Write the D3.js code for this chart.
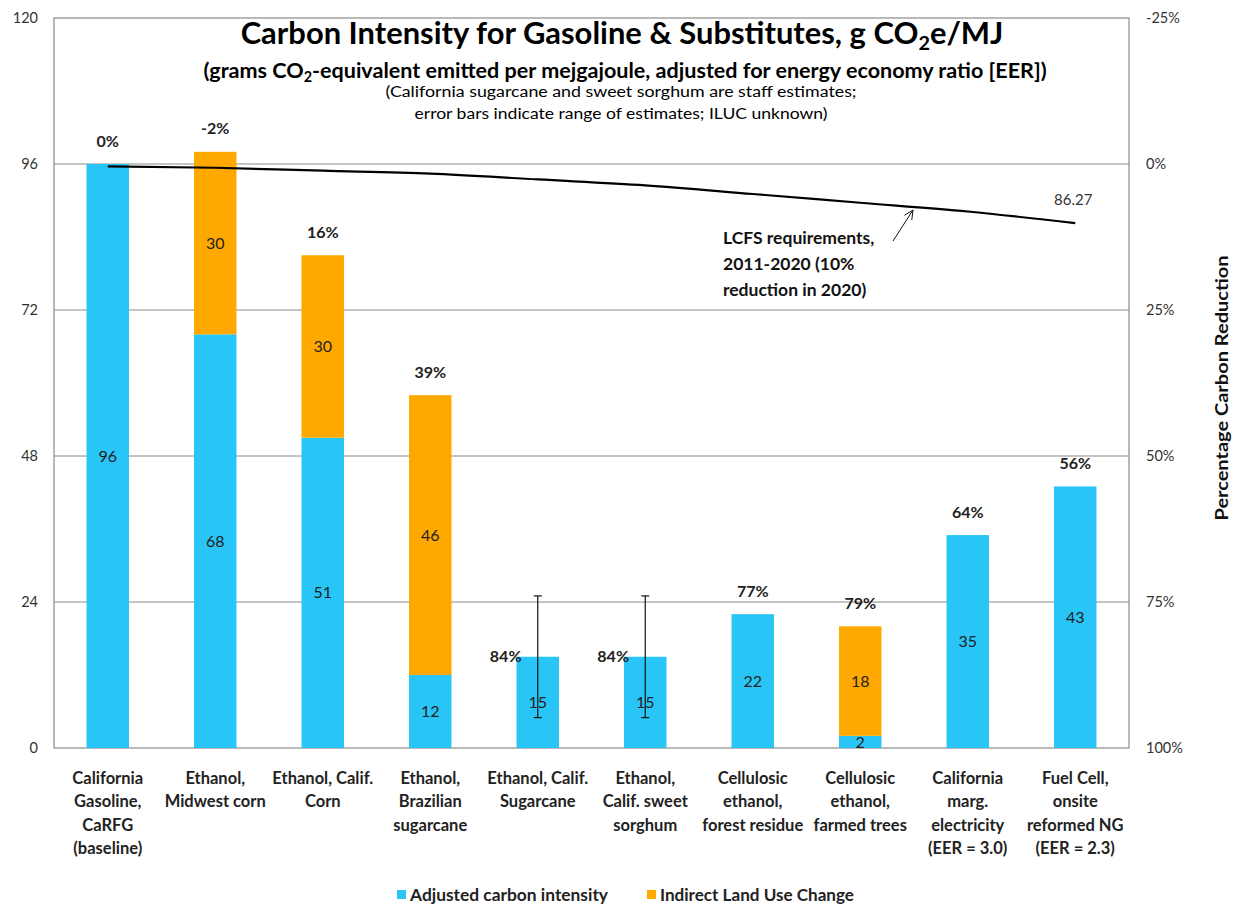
<!DOCTYPE html>
<html>
<head>
<meta charset="utf-8">
<script src="https://cdn.jsdelivr.net/npm/d3@7"></script>
<style>
  html, body { margin: 0; padding: 0; background: #fff; }
  svg { display: block; font-family: Lato, "Open Sans", "DejaVu Sans", sans-serif; }
</style>
</head>
<body>
<svg id="chart" width="1236" height="905"></svg>
<script>
// ---- data ----
const categories = [
  ["California", "Gasoline,", "CaRFG", "(baseline)"],
  ["Ethanol,", "Midwest corn"],
  ["Ethanol, Calif.", "Corn"],
  ["Ethanol,", "Brazilian", "sugarcane"],
  ["Ethanol, Calif.", "Sugarcane"],
  ["Ethanol,", "Calif. sweet", "sorghum"],
  ["Cellulosic", "ethanol,", "forest residue"],
  ["Cellulosic", "ethanol,", "farmed trees"],
  ["California", "marg.", "electricity", "(EER = 3.0)"],
  ["Fuel Cell,", "onsite", "reformed NG", "(EER = 2.3)"]
];
const adjustedCI = [96, 68, 51, 12, 15, 15, 22, 2, 35, 43];
const ilucCI     = [0, 30, 30, 46, 0, 0, 0, 18, 0, 0];
const pctReductionLabels = ["0%", "-2%", "16%", "39%", "84%", "84%", "77%", "79%", "64%", "56%"];
const errorLow   = [null, null, null, null, 5, 5, null, null, null, null];
const errorHigh  = [null, null, null, null, 25, 25, null, null, null, null];
const lcfsRequirement = [95.61, 95.38, 94.90, 94.42, 93.46, 92.50, 91.07, 89.63, 88.19, 86.27];
const leftTicks  = [0, 24, 48, 72, 96, 120];
const rightTicks = [-0.25, 0, 0.25, 0.5, 0.75, 1];
const seriesNames = ["Adjusted carbon intensity", "Indirect Land Use Change"];
const seriesColors = ["#29C5F6", "#FFA800"];

// ---- layout ----
const svg = d3.select("#chart");
const L = 54, R = 1129, T = 18, B = 748;

const x = d3.scaleBand().domain(d3.range(categories.length)).range([L, R]).padding(0);
const barW = x.bandwidth() * 0.395;
const y = d3.scaleLinear().domain([0, 120]).range([B, T]);
const yR = d3.scaleLinear().domain([1, -0.25]).range([B, T]);
const cx = i => x(i) + x.bandwidth() / 2;

// gridlines
svg.append("g").selectAll("line").data(leftTicks.filter(t => t > 0 && t < 120)).join("line")
  .attr("x1", L).attr("x2", R).attr("y1", d => y(d)).attr("y2", d => y(d))
  .attr("stroke", "#8a8a8a").attr("stroke-width", 1);

// border
svg.append("rect").attr("x", L).attr("y", T).attr("width", R - L).attr("height", B - T)
  .attr("fill", "none").attr("stroke", "#8a8a8a").attr("stroke-width", 1.2);

// left axis
const gl = svg.append("g").attr("transform", `translate(${L},0)`)
  .call(d3.axisLeft(y).tickValues(leftTicks).tickSize(0).tickPadding(16).tickFormat(d3.format("d")));
gl.select(".domain").remove();
gl.selectAll("text").attr("font-size", 14.5).attr("fill", "#333").attr("font-family", "Lato, sans-serif");

// right axis
const pctFmt = d => (d < 0 ? "-" : "") + Math.round(Math.abs(d) * 100) + "%";
const gr = svg.append("g").attr("transform", `translate(${R},0)`)
  .call(d3.axisRight(yR).tickValues(rightTicks).tickSize(0).tickPadding(17).tickFormat(pctFmt));
gr.select(".domain").remove();
gr.selectAll("text").attr("font-size", 14.5).attr("fill", "#333").attr("font-family", "Lato, sans-serif");

// right axis title
svg.append("text").attr("transform", "translate(1222,388) rotate(-90)")
  .attr("text-anchor", "middle").attr("dominant-baseline", "central")
  .attr("font-size", 16.5).attr("font-weight", "bold").attr("fill", "#111")
  .attr("textLength", 265).attr("lengthAdjust", "spacingAndGlyphs")
  .text("Percentage Carbon Reduction");

// bars
const bars = svg.append("g");
categories.forEach((c, i) => {
  const a = adjustedCI[i], b = ilucCI[i];
  bars.append("rect").attr("x", cx(i) - barW / 2).attr("width", barW)
    .attr("y", y(a)).attr("height", y(0) - y(a)).attr("fill", seriesColors[0]);
  if (b > 0) {
    bars.append("rect").attr("x", cx(i) - barW / 2).attr("width", barW)
      .attr("y", y(a + b)).attr("height", y(a) - y(a + b)).attr("fill", seriesColors[1]);
  }
});

// value labels
const vl = svg.append("g").attr("font-size", 16).attr("fill", "#222").attr("text-anchor", "middle");
categories.forEach((c, i) => {
  const a = adjustedCI[i], b = ilucCI[i];
  vl.append("text").attr("x", cx(i)).attr("y", y(a / 2)).attr("dy", "0.35em").text(a);
  if (b > 0) vl.append("text").attr("x", cx(i)).attr("y", y(a + b / 2)).attr("dy", "0.35em").text(b);
});

// error bars
const eb = svg.append("g").attr("stroke", "#111").attr("stroke-width", 1.2);
categories.forEach((c, i) => {
  if (errorLow[i] == null) return;
  eb.append("line").attr("x1", cx(i)).attr("x2", cx(i)).attr("y1", y(errorLow[i])).attr("y2", y(errorHigh[i]));
  [errorLow[i], errorHigh[i]].forEach(v => {
    eb.append("line").attr("x1", cx(i) - 4).attr("x2", cx(i) + 4).attr("y1", y(v)).attr("y2", y(v));
  });
});

// percent reduction labels
const pl = svg.append("g").attr("font-size", 16).attr("font-weight", "bold").attr("fill", "#222");
categories.forEach((c, i) => {
  const top = adjustedCI[i] + ilucCI[i];
  if (errorLow[i] != null) {
    pl.append("text").attr("x", cx(i) - barW / 2 + 5).attr("y", y(top)).attr("dy", "0.35em")
      .attr("text-anchor", "end").text(pctReductionLabels[i]);
  } else {
    pl.append("text").attr("x", cx(i)).attr("y", y(top) - 23).attr("dy", "0.35em")
      .attr("text-anchor", "middle").text(pctReductionLabels[i]);
  }
});

// LCFS line
const line = d3.line().x((d, i) => cx(i)).y(d => y(d)).curve(d3.curveMonotoneX);
svg.append("path").datum(lcfsRequirement).attr("d", line)
  .attr("fill", "none").attr("stroke", "#000").attr("stroke-width", 2.2);
const lastI = lcfsRequirement.length - 1;
svg.append("text").attr("x", cx(lastI) - 2).attr("y", y(lcfsRequirement[lastI]) - 23).attr("dy", "0.35em")
  .attr("text-anchor", "middle").attr("font-size", 15).attr("fill", "#333").text(lcfsRequirement[lastI].toFixed(2));

// annotation
const ann = svg.append("g").attr("font-size", 17.5).attr("font-weight", "bold").attr("fill", "#111");
["LCFS requirements,", "2011-2020 (10%", "reduction in 2020)"].forEach((t, k) => {
  ann.append("text").attr("x", 723).attr("y", 238 + k * 26).attr("dy", "0.35em").text(t);
});
// arrow pointing to the line between index 7 and 8
const ax = 913, ay = y(lcfsRequirement[7] + (lcfsRequirement[8] - lcfsRequirement[7]) * ((913 - cx(7)) / (cx(8) - cx(7)))) + 3;
const bx = 893, by = 241;
svg.append("line").attr("x1", bx).attr("y1", by).attr("x2", ax).attr("y2", ay).attr("stroke", "#111").attr("stroke-width", 1);
const ang = Math.atan2(ay - by, ax - bx);
[ang + Math.PI - 0.45, ang + Math.PI + 0.45].forEach(a2 => {
  svg.append("line").attr("x1", ax).attr("y1", ay)
    .attr("x2", ax + 10 * Math.cos(a2)).attr("y2", ay + 10 * Math.sin(a2))
    .attr("stroke", "#111").attr("stroke-width", 1);
});

// x labels
const xl = svg.append("g").attr("font-size", 16.5).attr("font-weight", "bold").attr("fill", "#222").attr("text-anchor", "middle");
categories.forEach((lines, i) => {
  lines.forEach((t, k) => {
    xl.append("text").attr("x", cx(i)).attr("y", 778 + k * 23.5).attr("dy", "0.35em").text(t);
  });
});

// title
const title = svg.append("g").attr("text-anchor", "middle").attr("fill", "#000");
const t1 = title.append("text").attr("x", 622).attr("y", 33).attr("dy", "0.35em")
  .attr("font-size", 25).attr("font-weight", "bold");
t1.append("tspan").text("Carbon Intensity for Gasoline & Substitutes, g CO");
t1.append("tspan").attr("class", "sub").attr("font-size", 16).attr("dy", 6).text("2");
t1.append("tspan").attr("dy", -6).text("e/MJ");
const t2 = title.append("text").attr("x", 625).attr("y", 70).attr("dy", "0.35em")
  .attr("font-size", 16.5).attr("font-weight", "bold");
t2.append("tspan").text("(grams CO");
t2.append("tspan").attr("class", "sub").attr("font-size", 11).attr("dy", 4).text("2");
t2.append("tspan").attr("dy", -4).text("-equivalent emitted per mejgajoule, adjusted for energy economy ratio [EER])");
title.append("text").attr("x", 621).attr("y", 92).attr("dy", "0.35em").attr("font-size", 14.5)
  .attr("textLength", 471).attr("lengthAdjust", "spacingAndGlyphs")
  .text("(California sugarcane and sweet sorghum are staff estimates;");
title.append("text").attr("x", 621).attr("y", 114).attr("dy", "0.35em").attr("font-size", 14.5)
  .attr("textLength", 413).attr("lengthAdjust", "spacingAndGlyphs")
  .text("error bars indicate range of estimates; ILUC unknown)");

// fit title widths
function fitWidth(sel, target) {
  const w = sel.node().getComputedTextLength();
  const k = target / w;
  sel.attr("font-size", parseFloat(sel.attr("font-size")) * k);
  sel.selectAll("tspan.sub").each(function() {
    const s = d3.select(this);
    s.attr("font-size", parseFloat(s.attr("font-size")) * k);
  });
}
fitWidth(t1, 763);
fitWidth(t2, 844);

// legend
const lg = svg.append("g").attr("font-size", 17).attr("font-weight", "bold").attr("fill", "#222");
const legendX = [397, 647];
const legendW = [198, 194];
seriesNames.forEach((n, k) => {
  lg.append("rect").attr("x", legendX[k]).attr("y", 890).attr("width", 9).attr("height", 9).attr("fill", seriesColors[k]);
  lg.append("text").attr("x", legendX[k] + 13).attr("y", 895).attr("dy", "0.35em")
    .attr("textLength", legendW[k]).attr("lengthAdjust", "spacingAndGlyphs").text(n);
});
</script>
</body>
</html>
